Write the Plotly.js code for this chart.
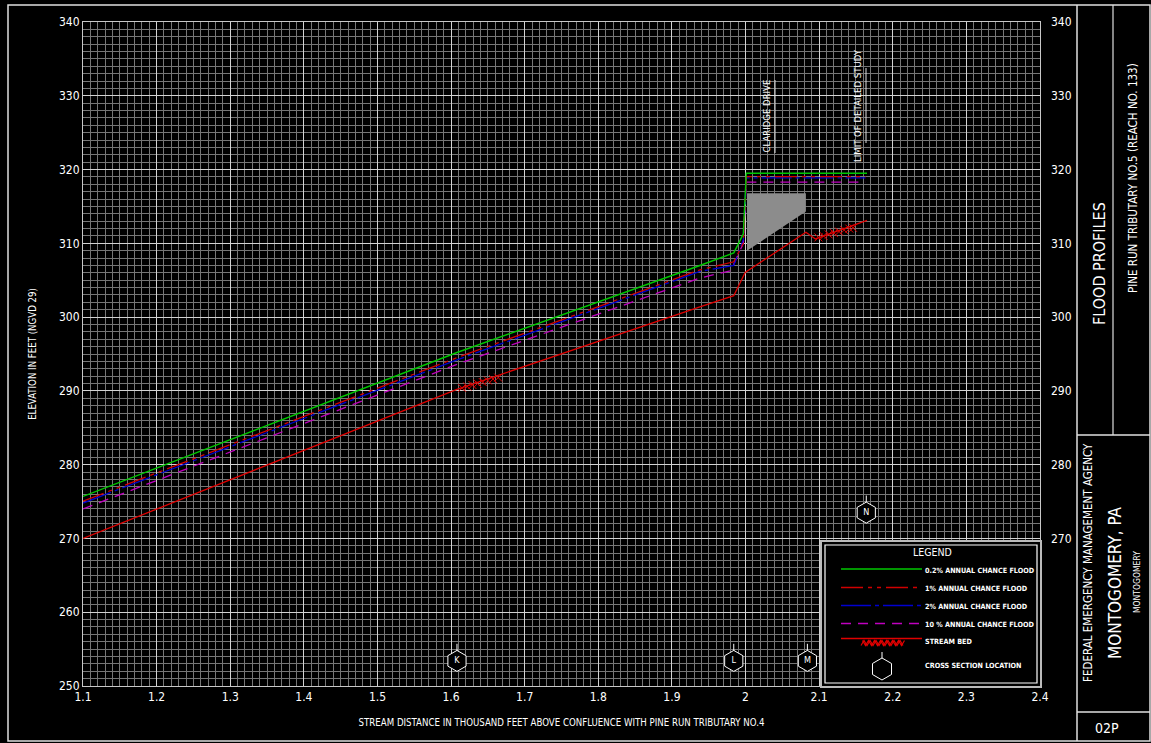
<!DOCTYPE html>
<html><head><meta charset="utf-8">
<script src="https://cdn.plot.ly/plotly-3.0.1.min.js"></script>
<style>html,body{margin:0;padding:0;background:#000;} #chart{width:1151px;height:743px;}</style>
</head><body><div id="chart"></div>
<script>
const FONT = '"Liberation Sans Narrow", "DejaVu Sans Condensed", "Roboto Condensed", sans-serif';

// Distance (thousand feet above confluence) and elevation (feet, NGVD 29)
const flood02X = [1.1, 1.608, 1.938, 1.984, 1.997, 2.001, 2.165];
const flood02Y = [275.7, 295.2, 307.0, 308.7, 311.3, 319.5, 319.5];
const flood1X = [1.1, 1.608, 1.938, 1.984, 1.997, 2.001, 2.163];
const flood1Y = [275.05, 294.5, 306.4, 307.5, 310.0, 319.05, 319.05];
const flood2X = [1.1, 1.608, 1.938, 1.984, 1.997, 2.001, 2.163];
const flood2Y = [274.8, 294.2, 306.2, 307.0, 310.5, 318.86, 318.86];
const flood10X = [1.1, 1.608, 1.938, 1.980, 1.997, 2.001, 2.163];
const flood10Y = [274.0, 293.6, 305.3, 306.3, 310.0, 318.3, 318.3];
const bedX = [1.1, 1.608, 1.938, 1.984, 1.9995, 2.082, 2.095, 2.165];
const bedY = [270.0, 290.2, 301.4, 302.9, 306.05, 311.5, 310.6, 313.1];
const structX = [2.002, 2.082, 2.082, 2.002];
const structY = [316.8, 316.8, 314.3, 309.0];
const hatch1X = [1.615, 1.622, 1.629, 1.636, 1.643, 1.650, 1.657, 1.664];
const hatch1Y = [290.4, 290.6, 290.8, 291.0, 291.2, 291.4, 291.6, 291.8];
const hatch2X = [2.099, 2.106, 2.113, 2.120, 2.127, 2.134, 2.141, 2.146];
const hatch2Y = [310.8, 311.0, 311.2, 311.4, 311.6, 311.8, 312.0, 312.1];
const xsecLabels = ['K', 'L', 'M', 'N'];
const xsecX = [1.608, 1.984, 2.084, 2.164];
const xsecY = [253.4, 253.4, 253.4, 273.5];
const rightTicks = [270, 280, 290, 300, 310, 320, 330, 340];

const legendNames = ['0.2% ANNUAL CHANCE FLOOD', '1% ANNUAL CHANCE FLOOD', '2% ANNUAL CHANCE FLOOD',
  '10 % ANNUAL CHANCE FLOOD', 'STREAM BED', 'CROSS SECTION LOCATION'];

const C_GREEN = '#00c800', C_RED1 = '#d00000', C_BLUE = '#0000d0', C_MAG = '#c000c0', C_BED = '#e00000';
const D_RED1 = '22px,5px,4px,5px,4px,5px', D_BLUE = '30px,4px,4px,4px', D_MAG = '10px,7px';

const traces = [
  {x: structX, y: structY, type: 'scatter', mode: 'lines', fill: 'toself', fillcolor: '#8c8c8c',
   line: {width: 0, color: '#8c8c8c'}, hoverinfo: 'skip'},
  {x: bedX, y: bedY, type: 'scatter', mode: 'lines', line: {color: C_BED, width: 1.3}},
  {x: hatch1X, y: hatch1Y, type: 'scatter', mode: 'markers',
   marker: {symbol: 'x-thin-open', size: 8, color: C_BED, line: {color: C_BED, width: 1}}},
  {x: hatch2X, y: hatch2Y, type: 'scatter', mode: 'markers',
   marker: {symbol: 'x-thin-open', size: 8, color: C_BED, line: {color: C_BED, width: 1}}},
  {x: flood10X, y: flood10Y, type: 'scatter', mode: 'lines', line: {color: C_MAG, width: 1.3, dash: D_MAG}},
  {x: flood2X, y: flood2Y, type: 'scatter', mode: 'lines', line: {color: C_BLUE, width: 1.3, dash: D_BLUE}},
  {x: flood1X, y: flood1Y, type: 'scatter', mode: 'lines', line: {color: C_RED1, width: 1.3, dash: D_RED1}},
  {x: flood02X, y: flood02Y, type: 'scatter', mode: 'lines', line: {color: C_GREEN, width: 1.4}},
  {x: xsecX, y: xsecY.map(v => v + 1.75), type: 'scatter', mode: 'markers', yaxis: 'y2',
   marker: {symbol: 'line-ns-open', size: 6, color: '#fff', line: {color: '#fff', width: 1}}},
  {x: xsecX, y: xsecY, type: 'scatter', mode: 'markers+text', text: xsecLabels, yaxis: 'y2',
   textposition: 'middle center', textfont: {family: FONT, size: 9, color: '#fff'},
   marker: {symbol: 'hexagon', size: 21, color: '#000', line: {color: '#fff', width: 1}}}
];

const PX = px => (px - 83) / 957;
const PY = py => (686 - py) / 664;
const shapes = [];
const ann = [];
function line(x0, y0, x1, y1, color, width, dash) {
  shapes.push({type: 'line', xref: 'paper', yref: 'paper', layer: 'above',
    x0: PX(x0), y0: PY(y0), x1: PX(x1), y1: PY(y1), line: {color: color, width: width, dash: dash || 'solid'}});
}
function rect(x0, y0, x1, y1, color, width, fill) {
  shapes.push({type: 'rect', xref: 'paper', yref: 'paper', layer: 'above',
    x0: PX(x0), y0: PY(y0), x1: PX(x1), y1: PY(y1), line: {color: color, width: width}, fillcolor: fill || 'rgba(0,0,0,0)'});
}
function path(pts, color, width, close) {
  let d = pts.map((p, i) => (i ? 'L' : 'M') + PX(p[0]).toFixed(5) + ',' + PY(p[1]).toFixed(5)).join(' ') + (close ? ' Z' : '');
  shapes.push({type: 'path', xref: 'paper', yref: 'paper', layer: 'above', path: d, line: {color: color, width: width}});
}
function text(t, x, y, size, opts) {
  ann.push(Object.assign({text: t, xref: 'paper', yref: 'paper', x: PX(x), y: PY(y), showarrow: false,
    font: {family: FONT, size: size, color: '#fff'}, xanchor: 'center', yanchor: 'middle'}, opts || {}));
}

// outer frame & title block
rect(8, 5, 1150, 741, '#e0e0e0', 1.5);
line(1077, 5, 1077, 741, '#e0e0e0', 1.5);
line(1077, 435, 1150, 435, '#e0e0e0', 1.5);
line(1113, 5, 1113, 435, '#e0e0e0', 1.2);
line(1077, 712, 1150, 712, '#e0e0e0', 1.5);
text('FLOOD PROFILES', 1099, 264, 16, {textangle: -90});
text('PINE RUN TRIBUTARY NO.5 (REACH NO. 133)', 1133, 178, 11.5, {textangle: -90});
text('FEDERAL EMERGENCY MANAGEMENT AGENCY', 1088, 563, 11.5, {textangle: -90});
text('MONTOGOMERY, PA', 1115, 583, 17, {textangle: -90});
text('MONTOGOMERY', 1137, 582, 8.5, {textangle: -90});
text('02P', 1107, 728, 14);

// structure labels
text('CLARIDGE DRIVE', 766.5, 116, 9.5, {textangle: -90});
line(775, 80, 775, 153, '#e0e0e0', 1);
text('LIMIT OF DETAILED STUDY', 857, 106, 9.5, {textangle: -90});
line(866, 68, 866, 143, '#e0e0e0', 1);

// legend
rect(821, 541, 1041, 687, '#bbbbbb', 2, '#000');
rect(825, 545, 1037, 683, '#ffffff', 1.2);
text('LEGEND', 932, 552, 10.5);
const rows = [569, 587.5, 605.5, 623.5, 638.5];
line(841, rows[0], 922, rows[0], C_GREEN, 1.5);
line(841, rows[1], 922, rows[1], C_RED1, 1.3, D_RED1);
line(841, rows[2], 922, rows[2], C_BLUE, 1.3, D_BLUE);
line(841, rows[3], 922, rows[3], C_MAG, 1.5, D_MAG);
line(841, rows[4], 922, rows[4], C_BED, 1.5);
const zz = [];
for (let i = 0; i <= 14; i++) zz.push([861 + i * 3, (i % 2) ? 640.5 : 645.5]);
path(zz, C_BED, 1.2);
const zz2 = [];
for (let i = 0; i <= 14; i++) zz2.push([862.5 + i * 3, (i % 2) ? 645.5 : 640.5]);
path(zz2, C_BED, 1.2);
path([[882, 658], [891.5, 663.5], [891.5, 674.5], [882, 680], [872.5, 674.5], [872.5, 663.5]], '#fff', 1, true);
line(882, 652, 882, 658, '#fff', 1);
for (let i = 0; i < 5; i++) text('<b>' + legendNames[i] + '</b>', 923, i === 4 ? 641 : rows[i] + 1, 7.2, {xanchor: 'left'});
text('<b>' + legendNames[5] + '</b>', 923, 665, 7.2, {xanchor: 'left'});

const layout = {
  width: 1151, height: 743,
  paper_bgcolor: '#000', plot_bgcolor: '#000',
  margin: {l: 83, r: 111, t: 22, b: 57},
  showlegend: false,
  font: {family: FONT, color: '#fff', size: 12},
  xaxis: {range: [1.1, 2.4], tickmode: 'linear', tick0: 1.1, dtick: 0.1,
    showgrid: true, gridcolor: '#d2d2d2', gridwidth: 1,
    minor: {tick0: 1.1, dtick: 0.01, showgrid: true, gridcolor: '#767676', gridwidth: 1},
    zeroline: false, showline: true, linecolor: '#c8c8c8', linewidth: 1, mirror: true,
    ticks: '', tickfont: {family: FONT, size: 12, color: '#fff'},
    title: {text: 'STREAM DISTANCE IN THOUSAND FEET ABOVE CONFLUENCE WITH PINE RUN TRIBUTARY NO.4',
      font: {family: FONT, size: 9.6, color: '#fff'}, standoff: 15}},
  yaxis: {range: [250, 340], tickmode: 'linear', tick0: 250, dtick: 10,
    showgrid: true, gridcolor: '#d2d2d2', gridwidth: 1,
    minor: {tick0: 250, dtick: 1, showgrid: true, gridcolor: '#767676', gridwidth: 1},
    zeroline: false, showline: true, linecolor: '#c8c8c8', linewidth: 1, mirror: true,
    ticks: '', tickfont: {family: FONT, size: 12, color: '#fff'},
    title: {text: 'ELEVATION IN FEET (NGVD 29)', font: {family: FONT, size: 9.6, color: '#fff'}, standoff: 20}},
  yaxis2: {range: [250, 340], overlaying: 'y', side: 'right', tickmode: 'array', tickvals: rightTicks,
    showgrid: false, zeroline: false, showline: false, ticks: '', ticklabelstandoff: 10,
    tickfont: {family: FONT, size: 12, color: '#fff'}},
  shapes: shapes,
  annotations: ann
};

Plotly.newPlot('chart', traces, layout, {displayModeBar: false, staticPlot: true});
</script></body></html>
